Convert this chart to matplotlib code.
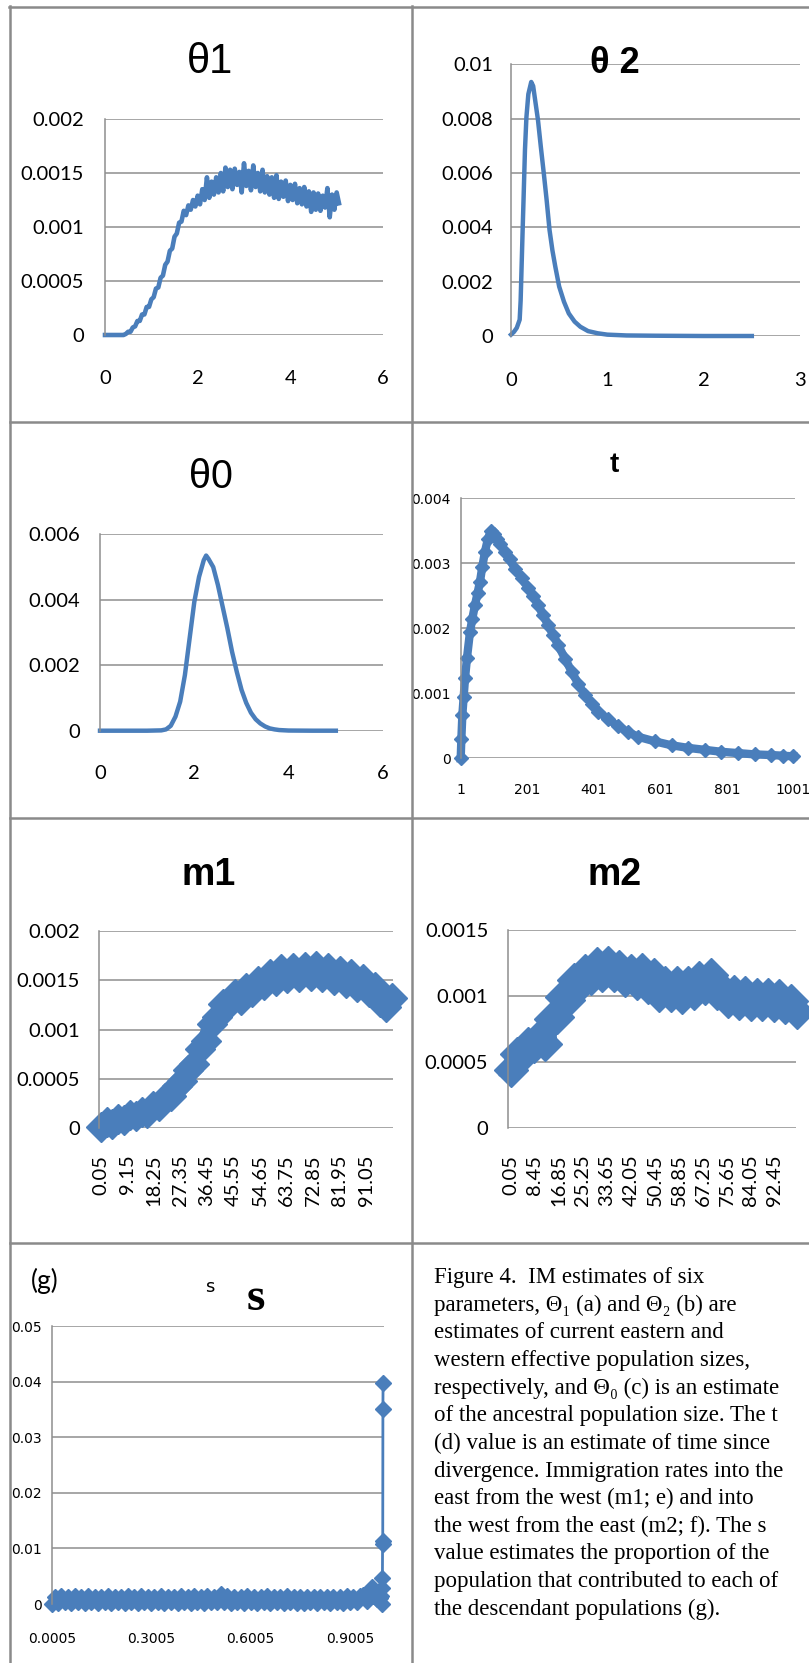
import numpy as np
import matplotlib
matplotlib.use('Agg')
import matplotlib.pyplot as plt
from matplotlib.lines import Line2D

W, H = 809, 1663
BLUE = '#4a7ebb'
GRID = '#8e8e8e'
BORDER = '#8a8a8a'

SANS = ['Lato', 'DejaVu Sans']
NARROW = ['Liberation Sans Narrow', 'DejaVu Sans Condensed', 'DejaVu Sans']
TITLE = ['Liberation Sans', 'DejaVu Sans']
SERIF = ['Liberation Serif', 'DejaVu Serif']

# --- (a) theta1, x = 0 .. 5.05 step 0.05, values in 1e-4
theta1_x = np.round(np.arange(0, 5.051, 0.05), 2)
theta1_y = np.array([
    0, 0, 0, 0, 0, 0, 0, 0, 0,
    0.1, 0.3, 0.3, 0.7, 0.8, 1.3, 1.3, 1.9, 1.9, 2.6, 2.6, 3.3,
    3.5, 4.3, 4.4, 5.3, 5.5, 6.5, 6.8, 7.8, 8.0, 9.1,
    9.4, 10.4, 10.5, 11.5, 11.1, 12.0, 11.6, 12.5, 11.9, 12.9,
    12.1, 13.5, 12.5, 14.6, 12.7, 14.2, 13.0, 14.6, 13.2, 15.0,
    13.3, 15.5, 13.7, 15.3, 13.5, 15.4, 13.9, 15.1, 13.2, 15.9,
    13.8, 15.2, 13.4, 15.7, 13.7, 15.0, 13.3, 15.3, 13.2, 14.7,
    13.0, 14.6, 12.7, 14.8, 12.6, 14.2, 12.8, 14.3, 12.4, 13.9,
    12.5, 14.0, 12.2, 13.6, 12.1, 13.7, 11.9, 13.3, 11.4, 13.2,
    11.6, 13.1, 11.5, 12.9, 11.8, 13.6, 10.9, 13.0, 11.6, 13.2,
    12.2]) * 1e-4

# --- (b) theta2, values in 1e-3
theta2_x = [0, 0.03, 0.06, 0.09, 0.10, 0.11, 0.12, 0.13, 0.145, 0.16, 0.18, 0.21,
            0.23, 0.25, 0.28, 0.31, 0.34, 0.37, 0.40, 0.43, 0.46, 0.50, 0.55, 0.60,
            0.66, 0.72, 0.80, 0.90, 1.0, 1.2, 1.5, 2.0, 2.5]
theta2_y = np.array([0.05, 0.15, 0.3, 0.6, 1.3, 2.55, 3.8, 5.0, 6.85, 8.05, 8.9, 9.35,
                     9.2, 8.7, 7.95, 6.95, 6.0, 5.0, 3.9, 3.15, 2.55, 1.82, 1.26, 0.83,
                     0.53, 0.34, 0.18, 0.10, 0.05, 0.02, 0.01, 0.0, 0.0]) * 1e-3

# --- (c) theta0, values in 1e-3
theta0_x = [0, 0.5, 1.0, 1.3, 1.4, 1.5, 1.6, 1.7, 1.8, 1.9, 2.0, 2.1, 2.2, 2.25, 2.3,
            2.4, 2.5, 2.6, 2.7, 2.8, 2.9, 3.0, 3.1, 3.2, 3.3, 3.4, 3.5, 3.6, 3.7, 3.8,
            4.0, 4.5, 5.0]
theta0_y = np.array([0, 0, 0, 0.01, 0.04, 0.15, 0.43, 0.89, 1.7, 2.82, 3.94, 4.7, 5.21,
                     5.35, 5.25, 5.0, 4.45, 3.79, 3.13, 2.41, 1.8, 1.25, 0.85, 0.55, 0.35,
                     0.22, 0.13, 0.07, 0.04, 0.02, 0.005, 0, 0]) * 1e-3

# --- (d) t, values in 1e-3
t_x = [1, 3, 6, 10, 14, 20, 29, 36, 44, 52, 59, 66, 74, 83, 92, 100, 109, 120, 134, 148,
       164, 184, 204, 219, 234, 249, 264, 279, 294, 315, 335, 355, 375, 395, 415, 445,
       475, 505, 535, 585, 635, 685, 735, 785, 835, 885, 935, 970, 1001]
t_y = np.array([0.0, 0.3, 0.67, 0.95, 1.23, 1.55, 1.95, 2.15, 2.36, 2.55, 2.72, 2.95, 3.18,
                3.38, 3.5, 3.45, 3.38, 3.3, 3.18, 3.06, 2.92, 2.77, 2.62, 2.5, 2.36, 2.2,
                2.05, 1.9, 1.74, 1.53, 1.33, 1.14, 0.97, 0.84, 0.72, 0.6, 0.49, 0.4, 0.33,
                0.26, 0.20, 0.16, 0.13, 0.10, 0.08, 0.06, 0.05, 0.04, 0.03]) * 1e-3
t_ticks = ['1', '201', '401', '601', '801', '1001']

# --- (e) m1 and (f) m2, x = 0 .. 100 step 2, values in 1e-4
m_x = np.arange(0, 101, 2)
m1_y = np.array([0.1, 0.6, 0.4, 0.9, 0.8, 1.3, 1.2, 1.7, 1.6, 2.3,
                 2.3, 3.1, 3.3, 4.3, 4.8, 5.9, 6.5, 8.0, 8.9, 10.6,
                 11.3, 12.6, 12.6, 13.6, 13.0, 14.2, 13.8, 14.9, 14.5, 15.6,
                 14.9, 16.1, 15.2, 16.3, 15.3, 16.4, 15.4, 16.5, 15.3, 16.2,
                 15.0, 15.9, 14.7, 15.6, 14.3, 15.1, 13.8, 14.3, 12.8, 12.3,
                 13.2]) * 1e-4
m2_y = np.array([4.4, 5.6, 5.5, 6.4, 6.2, 6.9, 6.4, 8.3, 8.4, 9.9,
                 9.7, 11.2, 10.8, 11.9, 11.4, 12.4, 11.6, 12.5, 11.6, 12.2,
                 11.2, 11.9, 11.0, 12.0, 10.7, 11.6, 10.1, 11.0, 10.1, 11.0,
                 9.9, 11.0, 10.2, 11.4, 10.6, 11.6, 10.2, 10.5, 9.6, 10.3,
                 9.5, 10.2, 9.4, 10.1, 9.4, 10.1, 9.3, 10.0, 9.2, 9.6,
                 8.8]) * 1e-4
m1_ticks = ['0.05', '9.15', '18.25', '27.35', '36.45', '45.55', '54.65', '63.75',
            '72.85', '81.95', '91.05']
m2_ticks = ['0.05', '8.45', '16.85', '25.25', '33.65', '42.05', '50.45', '58.85',
            '67.25', '75.65', '84.05', '92.45']

# --- (g) s: baseline 0.01 .. 0.93 step 0.01, then the tail; values in 1e-3
s_base_x = np.round(np.arange(0.01, 0.931, 0.01), 3)
s_base_y = [1.3, 0.2, 1.4, 0.3, 1.2, 0.2, 1.4, 0.3, 1.3, 0.2,
            1.4, 0.3, 1.2, 0.2, 1.3, 0.3, 1.4, 0.2, 1.3, 0.3,
            1.2, 0.2, 1.4, 0.3, 1.3, 0.2, 1.4, 0.3, 1.2, 0.2,
            1.3, 0.3, 1.4, 0.2, 1.3, 0.3, 1.2, 0.2, 1.4, 0.3,
            1.3, 0.2, 1.4, 0.3, 1.3, 0.2, 1.4, 0.3, 1.2, 0.3,
            1.8, 0.4, 1.4, 0.2, 1.3, 0.3, 1.2, 0.2, 1.4, 0.3,
            1.3, 0.2, 1.3, 0.3, 1.4, 0.2, 1.2, 0.3, 1.3, 0.2,
            1.4, 0.3, 1.2, 0.2, 1.3, 0.2, 1.2, 0.3, 1.3, 0.2,
            1.2, 0.3, 1.3, 0.2, 1.2, 0.3, 1.3, 0.2, 1.4, 0.3,
            1.3, 0.4, 1.4]
s_tail_x = [0.94, 0.95, 0.96, 0.965, 0.97, 0.975, 0.98, 0.985, 0.99, 0.9925,
            0.9955, 0.9965, 0.9975, 0.998, 0.9985, 0.999, 0.9995]
s_tail_y = [1.6, 0.6, 2.2, 3.0, 1.4, 2.4, 0.9, 1.8, 1.0, 1.4,
            0.0, 2.8, 4.6, 10.8, 11.3, 35.0, 39.7]
s_x = np.concatenate([[0.0005], s_base_x, s_tail_x])
s_y = np.concatenate([[0.0], s_base_y, s_tail_y]) * 1e-3
s_ticks = ['0.0005', '0.3005', '0.6005', '0.9005']

caption = [
    "Figure 4.  IM estimates of six",
    "parameters, \u0398\u2081 (a) and \u0398\u2082 (b) are",
    "estimates of current eastern and",
    "western effective population sizes,",
    "respectively, and \u0398\u2080 (c) is an estimate",
    "of the ancestral population size. The t",
    "(d) value is an estimate of time since",
    "divergence. Immigration rates into the",
    "east from the west (m1; e) and into",
    "the west from the east (m2; f). The s",
    "value estimates the proportion of the",
    "population that contributed to each of",
    "the descendant populations (g).",
]

fig = plt.figure(figsize=(W / 100, H / 100), dpi=100)


def add_ax(l, t, r, b):
    return fig.add_axes([l / W, 1 - b / H, (r - l) / W, (b - t) / H])


def ftext(x, y, s, **kw):
    fig.text(x / W, 1 - y / H, s, **kw)


def style(ax, xlim, ylim, yticks, ylabels, xticks, xlabels, font, size,
          ypad, xpad, rot=0):
    ax.set_xlim(*xlim)
    ax.set_ylim(*ylim)
    ax.set_yticks(yticks)
    ax.set_yticklabels(ylabels, family=font, fontsize=size)
    ax.set_xticks(xticks)
    ax.set_xticklabels(xlabels, family=font, fontsize=size, rotation=rot)
    for s in ['top', 'right', 'bottom']:
        ax.spines[s].set_visible(False)
    ax.spines['left'].set_color(GRID)
    ax.spines['left'].set_linewidth(1.1)
    ax.tick_params(length=0)
    ax.tick_params(axis='y', pad=ypad)
    ax.tick_params(axis='x', pad=xpad)
    ax.grid(axis='y', color=GRID, lw=1.1)
    ax.set_axisbelow(True)


# (a) theta1
ax = add_ax(105, 119, 383, 335)
ax.plot(theta1_x, theta1_y, color=BLUE, lw=3.3, clip_on=False)
style(ax, (0, 6), (0, 0.002), [0, 0.0005, 0.001, 0.0015, 0.002],
      ['0', '0.0005', '0.001', '0.0015', '0.002'], [0, 2, 4, 6], ['0', '2', '4', '6'],
      SANS, 14.5, 15, 25)
ftext(210, 72.7, '\u03b81', family=TITLE, fontsize=30, ha='center', va='baseline')

# (b) theta2
ax = add_ax(511, 64.3, 800, 336)
ax.plot(theta2_x, theta2_y, color=BLUE, lw=3.2, clip_on=False)
style(ax, (0, 3), (0, 0.01), [0, 0.002, 0.004, 0.006, 0.008, 0.01],
      ['0', '0.002', '0.004', '0.006', '0.008', '0.01'], [0, 1, 2, 3], ['0', '1', '2', '3'],
      SANS, 14.5, 13, 26)
ftext(615, 72.7, '\u03b8 2', family=TITLE, fontsize=26, weight='bold',
      ha='center', va='baseline')

# (c) theta0
ax = add_ax(100, 534.3, 383, 730.7)
ax.plot(theta0_x, theta0_y, color=BLUE, lw=3.2, clip_on=False)
style(ax, (0, 6), (0, 0.006), [0, 0.002, 0.004, 0.006],
      ['0', '0.002', '0.004', '0.006'], [0, 2, 4, 6], ['0', '2', '4', '6'],
      SANS, 14.5, 14, 25)
ftext(211, 487.7, '\u03b80', family=TITLE, fontsize=28.5, ha='center', va='baseline')

# (d) t
ax = add_ax(460.7, 498.3, 795, 758.3)
ax.plot(t_x, t_y, color=BLUE, lw=6, marker='D', ms=7, clip_on=False)
style(ax, (1, 1006), (0, 0.004), [0, 0.001, 0.002, 0.003, 0.004],
      ['0', '0.001', '0.002', '0.003', '0.004'], [int(v) for v in t_ticks], t_ticks,
      NARROW, 10, 7, 18)
ftext(614, 472, 't', family=TITLE, fontsize=20, weight='bold', ha='center', va='baseline')

# (e) m1
ax = add_ax(99.3, 931, 393.3, 1128.3)
ax.plot(m_x, m1_y, color=BLUE, lw=12, marker='D', ms=15, clip_on=False)
style(ax, (-0.53, 100.4), (0, 0.002), [0, 0.0005, 0.001, 0.0015, 0.002],
      ['0', '0.0005', '0.001', '0.0015', '0.002'], [float(v) for v in m1_ticks], m1_ticks,
      SANS, 14.5, 14, 19, rot=90)
ftext(209, 885, 'm1', family=TITLE, fontsize=27, weight='bold', ha='center', va='baseline')

# (f) m2
ax = add_ax(507.7, 930, 795.7, 1128.3)
ax.plot(m_x, m2_y, color=BLUE, lw=14, marker='D', ms=17, clip_on=False)
style(ax, (-1.1, 99.7), (0, 0.0015), [0, 0.0005, 0.001, 0.0015],
      ['0', '0.0005', '0.001', '0.0015'], [float(v) for v in m2_ticks], m2_ticks,
      SANS, 14.5, 14, 19, rot=90)
ftext(614.7, 885, 'm2', family=TITLE, fontsize=27, weight='bold', ha='center', va='baseline')

# (g) s
ax = add_ax(51.7, 1326, 384, 1604)
ax.plot(s_x, s_y, color=BLUE, lw=2, marker='D', ms=8, clip_on=False)
style(ax, (0.0005, 1.0023), (0, 0.05), [0, 0.01, 0.02, 0.03, 0.04, 0.05],
      ['0', '0.01', '0.02', '0.03', '0.04', '0.05'], [float(v) for v in s_ticks], s_ticks,
      NARROW, 10, 7, 20)
ftext(45, 1289, '(g)', family=SANS, fontsize=19, ha='center', va='baseline')
ftext(210, 1291.7, 's', family=NARROW, fontsize=13, ha='center', va='baseline')
ftext(256, 1310, 's', family=SERIF, fontsize=34, weight='bold', ha='center', va='baseline')

# caption
for i, line in enumerate(caption):
    ftext(434, 1283.3 + 27.6 * i, line, family=SERIF, fontsize=16.5, va='baseline')


# table borders
def hline(y, x0, x1):
    fig.add_artist(Line2D([x0 / W, x1 / W], [1 - y / H, 1 - y / H], color=BORDER,
                          lw=1.8, transform=fig.transFigure))


def vline(x, y0, y1):
    fig.add_artist(Line2D([x / W, x / W], [1 - y0 / H, 1 - y1 / H], color=BORDER,
                          lw=1.8, transform=fig.transFigure))


hline(7, 9, 809)
hline(421.7, 10, 809)
hline(818, 10, 809)
hline(1243, 10, 809)
vline(10, 6, 1663)
vline(411.5, 6, 1663)

fig.savefig('out.png', dpi=100)
